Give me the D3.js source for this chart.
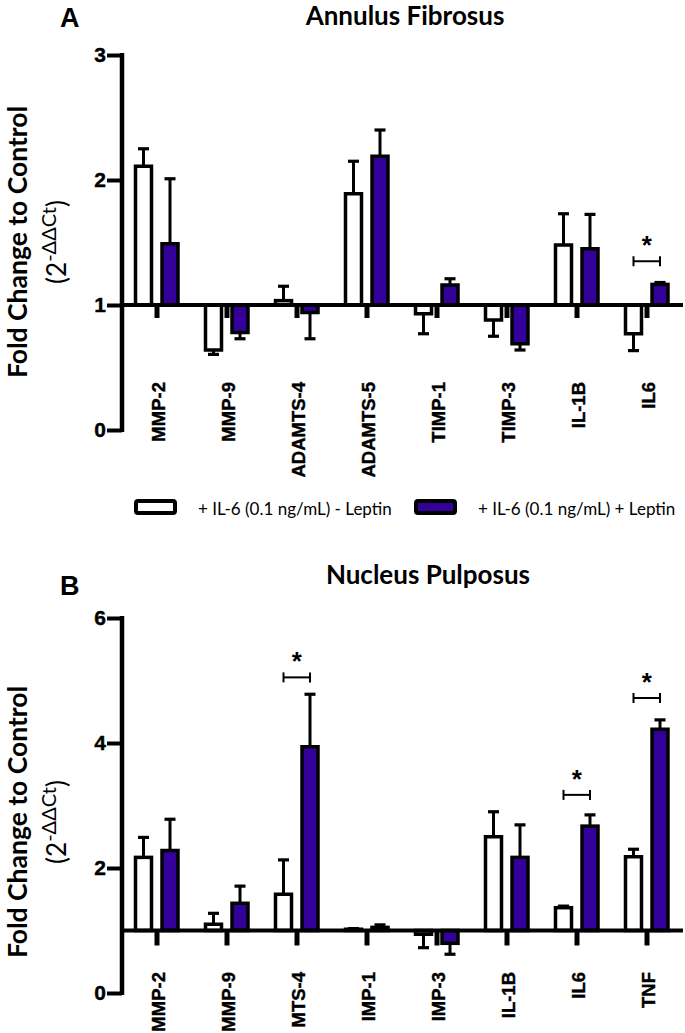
<!DOCTYPE html>
<html><head><meta charset="utf-8">
<script src="https://cdn.jsdelivr.net/npm/d3@7"></script>
<style>body{margin:0;background:#fff}</style>
</head><body>
<svg id="chart" width="685" height="1033"></svg>
<script>
// ---------------- data ----------------
const seriesNames = ["+ IL-6 (0.1 ng/mL) - Leptin", "+ IL-6 (0.1 ng/mL) + Leptin"];
const seriesColors = ["#ffffff", "#330099"];

// Panel A: Annulus Fibrosus
const afCategories = ["MMP-2", "MMP-9", "ADAMTS-4", "ADAMTS-5", "TIMP-1", "TIMP-3", "IL-1B", "IL6"];
const afMinus    = [2.11, 0.64, 1.035, 1.89, 0.93, 0.88, 1.48, 0.77];
const afMinusErr = [0.14, 0.035, 0.115, 0.26, 0.16, 0.13, 0.25, 0.135];
const afPlus     = [1.49, 0.78, 0.94, 2.19, 1.16, 0.69, 1.45, 1.165];
const afPlusErr  = [0.52, 0.05, 0.21, 0.21, 0.05, 0.05, 0.275, 0.015];
const afTicks    = [0, 1, 2, 3];
const afSigCats  = ["IL6"];
const afSigLevel = [1.35];

// Panel B: Nucleus Pulposus (labels as visible in the cropped figure)
const npCategories = ["MMP-2", "MMP-9", "MTS-4", "IMP-1", "IMP-3", "IL-1B", "IL6", "TNF"];
const npMinus    = [2.17, 1.10, 1.58, 1.02, 0.94, 2.50, 1.365, 2.18];
const npMinusErr = [0.32, 0.175, 0.55, 0.01, 0.215, 0.40, 0.025, 0.12];
const npPlus     = [2.28, 1.435, 3.94, 1.05, 0.795, 2.17, 2.67, 4.22];
const npPlusErr  = [0.50, 0.275, 0.84, 0.04, 0.175, 0.52, 0.18, 0.15];
const npTicks    = [0, 2, 4, 6];
const npSigCats  = ["MTS-4", "IL6", "TNF"];
const npSigLevel = [5.05, 3.17, 4.72];

const baselineValue = 1;

// ---------------- drawing ----------------
const svg = d3.select("#chart");
const tickFont = "'Liberation Sans', Arial, sans-serif";
const titleFont = "Lato, 'Open Sans', sans-serif";

function drawPanel(cfg) {
  const g = svg.append("g");
  const x = d3.scaleBand().domain(cfg.categories).range([122, 682]).paddingInner(0).paddingOuter(0);
  const y = d3.scaleLinear().domain([0, d3.max(cfg.ticks)]).range([cfg.y0, cfg.yTop]);
  const yb = y(baselineValue);
  const barW = 16;
  const offsets = [-13.5, 13];
  const series = [
    {vals: cfg.minus, errs: cfg.minusErr, color: seriesColors[0]},
    {vals: cfg.plus, errs: cfg.plusErr, color: seriesColors[1]}
  ];
  const cx = c => x(c) + x.bandwidth() / 2;

  series.forEach((s, si) => {
    const data = cfg.categories.map((c, i) => ({c, v: s.vals[i], e: s.errs[i]}));
    const eb = g.append("g");
    data.forEach(d => {
      const xc = cx(d.c) + offsets[si];
      const dir = d.v >= baselineValue ? 1 : -1;
      const yEnd = y(d.v + dir * d.e);
      eb.append("line").attr("x1", xc).attr("x2", xc).attr("y1", y(d.v)).attr("y2", yEnd)
        .attr("stroke", "#000").attr("stroke-width", 3);
      eb.append("line").attr("x1", xc - 5.5).attr("x2", xc + 5.5).attr("y1", yEnd).attr("y2", yEnd)
        .attr("stroke", "#000").attr("stroke-width", 3.2);
    });
    g.append("g").selectAll("rect").data(data).join("rect")
      .attr("x", d => cx(d.c) + offsets[si] - barW / 2)
      .attr("width", barW)
      .attr("y", d => Math.min(y(d.v), yb))
      .attr("height", d => Math.abs(y(d.v) - yb))
      .attr("fill", s.color)
      .attr("stroke", "#000")
      .attr("stroke-width", 3.5);
  });

  // baseline at fold change 1
  g.append("line").attr("x1", 122).attr("x2", 683).attr("y1", yb).attr("y2", yb)
    .attr("stroke", "#000").attr("stroke-width", 4);

  // category ticks
  g.append("g").selectAll("line").data(cfg.categories).join("line")
    .attr("x1", cx).attr("x2", cx).attr("y1", yb).attr("y2", yb + cfg.xTickLen)
    .attr("stroke", "#000").attr("stroke-width", 5);

  // category labels
  g.append("g").selectAll("text").data(cfg.categories).join("text")
    .attr("transform", c => `translate(${cx(c) + 1},${cfg.labelY}) rotate(-90)`)
    .attr("text-anchor", "end")
    .attr("dominant-baseline", "central")
    .attr("font-family", tickFont).attr("font-weight", "bold").attr("font-size", 18.5)
    .attr("stroke", "#000").attr("stroke-width", 0.4)
    .text(c => c);

  // y axis
  const ax = g.append("g").attr("transform", "translate(122,0)")
    .call(d3.axisLeft(y).tickValues(cfg.ticks).tickFormat(d3.format("d")).tickSize(15).tickSizeOuter(0).tickPadding(1));
  ax.select(".domain").attr("stroke-width", 4.5).attr("d", `M0,${cfg.y0 + 2}V${cfg.yTop - 2}`);
  ax.selectAll(".tick line").attr("stroke-width", 4);
  ax.selectAll(".tick text").attr("font-family", tickFont).attr("font-weight", "bold").attr("font-size", 21)
    .attr("fill", "#000").attr("stroke", "#000").attr("stroke-width", 0.4);

  // significance brackets
  cfg.sigCats.forEach((c, i) => {
    const yy = y(cfg.sigLevel[i]);
    const x1 = cx(c) + offsets[0], x2 = cx(c) + offsets[1];
    g.append("line").attr("x1", x1).attr("x2", x2).attr("y1", yy).attr("y2", yy).attr("stroke", "#000").attr("stroke-width", 2);
    g.append("line").attr("x1", x1).attr("x2", x1).attr("y1", yy - 5).attr("y2", yy + 5).attr("stroke", "#000").attr("stroke-width", 2);
    g.append("line").attr("x1", x2).attr("x2", x2).attr("y1", yy - 5).attr("y2", yy + 5).attr("stroke", "#000").attr("stroke-width", 2);
    g.append("text").attr("x", (x1 + x2) / 2).attr("y", yy - 7)
      .attr("text-anchor", "middle")
      .attr("font-family", tickFont).attr("font-weight", "bold").attr("font-size", 26).text("*");
  });

  // panel letter & title
  g.append("text").attr("x", 60).attr("y", cfg.letterY).attr("font-family", tickFont)
    .attr("font-weight", "bold").attr("font-size", 27).text(cfg.letter);
  g.append("text").attr("x", cfg.titleX).attr("y", cfg.titleY).attr("text-anchor", "middle")
    .attr("font-family", titleFont).attr("font-weight", "bold").attr("font-size", 26).text(cfg.title);

  // y-axis title (two lines)
  g.append("text").attr("transform", `translate(27,${cfg.yTitleC}) rotate(-90)`)
    .attr("text-anchor", "middle").attr("font-family", titleFont).attr("font-weight", "bold").attr("font-size", 26.5)
    .text("Fold Change to Control");
  const yt2 = g.append("text").attr("transform", `translate(66,${cfg.yTitleC}) rotate(-90)`)
    .attr("text-anchor", "middle").attr("font-family", titleFont).attr("font-weight", "normal").attr("font-size", 26);
  yt2.append("tspan").text("(2");
  yt2.append("tspan").attr("dy", -10).attr("font-size", 20).text("-ΔΔCt");
  yt2.append("tspan").attr("dy", 10).text(")");
}

drawPanel({
  categories: afCategories, minus: afMinus, minusErr: afMinusErr, plus: afPlus, plusErr: afPlusErr,
  ticks: afTicks, sigCats: afSigCats, sigLevel: afSigLevel,
  y0: 430, yTop: 55, xTickLen: 13, labelY: 382,
  letter: "A", letterY: 27, title: "Annulus Fibrosus", titleX: 405, titleY: 25, yTitleC: 242
});
drawPanel({
  categories: npCategories, minus: npMinus, minusErr: npMinusErr, plus: npPlus, plusErr: npPlusErr,
  ticks: npTicks, sigCats: npSigCats, sigLevel: npSigLevel,
  y0: 993, yTop: 618, xTickLen: 15, labelY: 972,
  letter: "B", letterY: 595, title: "Nucleus Pulposus", titleX: 428, titleY: 584, yTitleC: 822
});

// legend
const legend = svg.append("g");
const legendX = [136, 416];
seriesNames.forEach((name, i) => {
  legend.append("rect").attr("x", legendX[i]).attr("y", 501).attr("width", 39).attr("height", 12)
    .attr("rx", 2).attr("fill", seriesColors[i]).attr("stroke", "#000").attr("stroke-width", 4);
  legend.append("text").attr("x", legendX[i] + 62).attr("y", 508).attr("dominant-baseline", "central")
    .attr("font-family", titleFont).attr("font-size", 17).text(name);
});
</script>
</body></html>
